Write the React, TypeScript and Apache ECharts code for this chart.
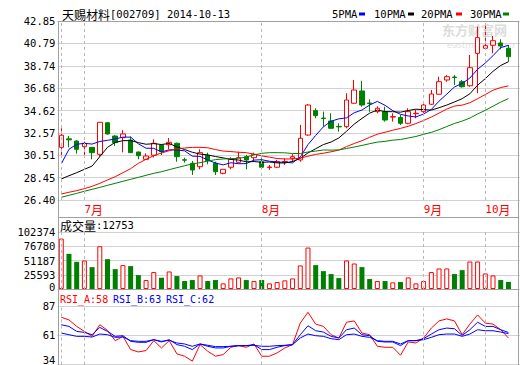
import React, { useEffect, useRef } from "react";
import * as echarts from "echarts";

const stockName = "天赐材料";
const stockCode = "002709";

const dates = [
  "2014-06-26", "2014-06-27", "2014-06-30",
  "2014-07-01", "2014-07-02", "2014-07-03", "2014-07-04", "2014-07-07", "2014-07-08", "2014-07-09", "2014-07-10",
  "2014-07-11", "2014-07-14", "2014-07-15", "2014-07-16", "2014-07-17", "2014-07-18", "2014-07-21", "2014-07-22",
  "2014-07-23", "2014-07-24", "2014-07-25", "2014-07-28", "2014-07-29", "2014-07-30", "2014-07-31",
  "2014-08-01", "2014-08-04", "2014-08-05", "2014-08-06", "2014-08-07", "2014-08-08", "2014-08-11", "2014-08-12",
  "2014-08-13", "2014-08-14", "2014-08-15", "2014-08-18", "2014-08-19", "2014-08-20", "2014-08-21", "2014-08-22",
  "2014-08-25", "2014-08-26", "2014-08-27", "2014-08-28", "2014-08-29",
  "2014-09-19", "2014-09-22", "2014-09-23", "2014-09-24", "2014-09-25", "2014-09-26", "2014-09-29", "2014-09-30",
  "2014-10-08", "2014-10-09", "2014-10-10", "2014-10-13",
];

const opens = [
  31.24, 32.02, 31.82, 31.30, 31.24, 30.60, 33.50, 32.28, 32.13, 31.91,
  30.81, 30.14, 30.51, 31.45, 31.48, 31.61, 30.10, 29.77, 29.46, 30.51,
  29.77, 28.85, 29.41, 29.86, 30.38, 30.29, 29.92, 29.38, 29.41, 29.90,
  30.23, 30.08, 32.37, 34.61, 33.93, 33.66, 33.16, 33.14, 35.29, 36.42,
  35.31, 34.52, 34.52, 34.02, 33.99, 33.45, 34.33, 34.52, 35.20, 36.12,
  37.43, 37.70, 37.27, 36.90, 39.88, 40.34, 40.62, 40.83, 40.34,
];
const closes = [
  32.35, 31.93, 31.06, 31.61, 30.75, 33.54, 32.47, 31.67, 32.47, 30.75,
  30.47, 30.44, 31.61, 30.84, 31.70, 30.38, 30.06, 29.16, 30.75, 30.01,
  29.00, 29.22, 30.14, 30.29, 30.08, 30.60, 29.41, 29.43, 29.92, 29.94,
  30.38, 32.07, 35.13, 34.15, 33.89, 32.99, 33.12, 35.59, 36.51, 35.13,
  35.27, 34.83, 33.75, 34.06, 33.45, 34.52, 34.37, 35.13, 36.14, 37.27,
  37.73, 37.66, 36.81, 38.56, 41.32, 40.58, 41.04, 40.55, 39.57,
];
const lows = [
  30.54, 31.24, 30.66, 30.54, 30.14, 30.38, 32.40, 31.36, 30.78, 30.72,
  30.14, 30.08, 30.32, 30.54, 31.06, 29.92, 29.83, 28.70, 29.22, 29.68,
  28.70, 28.76, 29.22, 29.77, 29.22, 29.92, 29.16, 29.16, 29.35, 29.62,
  29.89, 29.92, 32.30, 33.91, 33.14, 32.93, 32.68, 32.99, 35.26, 34.97,
  34.51, 34.37, 33.60, 33.60, 33.29, 33.36, 33.91, 34.37, 35.13, 36.10,
  37.27, 36.97, 36.72, 36.81, 36.21, 40.30, 39.88, 40.25, 39.11,
];
const highs = [
  32.99, 32.28, 31.87, 31.76, 31.27, 33.58, 33.55, 32.35, 32.83, 32.22,
  30.85, 30.69, 31.98, 31.50, 32.10, 31.67, 30.29, 29.98, 31.06, 30.75,
  29.92, 29.25, 30.32, 30.84, 30.54, 30.75, 30.23, 29.62, 30.08, 30.23,
  30.63, 33.30, 35.22, 34.83, 34.52, 34.37, 33.45, 36.21, 37.43, 37.36,
  35.65, 35.00, 34.97, 34.37, 34.21, 34.83, 34.67, 35.38, 36.51, 37.73,
  37.89, 37.89, 37.43, 39.73, 42.33, 42.39, 41.47, 41.17, 40.64,
];
const volumes = [
  90500, 63100, 48800, 51200, 39300, 76800, 53600, 35700, 42900, 41100,
  25000, 16100, 30400, 20200, 31500, 23200, 14300, 16100, 24400, 14300,
  16100, 10100, 19000, 20800, 16100, 14300, 16100, 10100, 12500, 15500,
  19000, 42300, 74400, 42900, 32100, 26800, 19600, 51200, 45800, 39300,
  17900, 14300, 14300, 11900, 12500, 20800, 10100, 14300, 30400, 36900,
  36900, 26800, 33900, 49400, 49400, 27900, 24400, 16100, 12753,
];

// moving-average values for the first days (history before the window)
const ma5Head = [29.71, 31.06, 31.52, 31.61];
const ma10Head = [28.33, 28.63, 28.91, 29.22, 29.52, 30.38, 31.24, 31.70, 31.85];
const ma20Head = [
  26.95, 27.11, 27.26, 27.44, 27.66, 27.93, 28.24, 28.54, 28.91, 29.28,
  29.77, 30.14, 30.48, 30.72, 30.93, 31.09, 31.18, 31.24, 31.24,
];
const ma30Head = [
  26.65, 26.83, 27.01, 27.20, 27.38, 27.56, 27.75, 27.93, 28.12, 28.30,
  28.48, 28.67, 28.85, 29.00, 29.19, 29.37, 29.55, 29.71, 29.83, 29.98,
  30.11, 30.17, 30.20, 30.23, 30.35, 30.54, 30.69, 30.75, 30.75,
];

const rsiA = [
  76.8, 74.4, 68.5, 64.0, 59.5, 70.0, 64.9, 55.6, 59.5, 47.5,
  45.4, 46.6, 55.6, 49.0, 55.6, 43.6, 41.5, 37.1, 52.0, 46.0,
  41.5, 43.0, 49.6, 51.1, 49.6, 52.6, 41.5, 41.5, 44.5, 49.0,
  52.0, 71.5, 81.3, 70.6, 68.5, 61.0, 58.0, 72.3, 73.5, 62.5,
  61.0, 50.5, 49.6, 49.6, 42.4, 54.4, 53.5, 58.0, 67.0, 73.5,
  75.3, 73.5, 61.0, 70.6, 78.9, 71.5, 70.6, 65.5, 58.0,
];
const rsiB = [
  70.0, 68.5, 64.0, 63.1, 61.0, 67.6, 64.0, 59.5, 60.1, 55.0,
  54.1, 54.1, 56.5, 54.4, 56.5, 52.0, 50.5, 47.5, 52.6, 50.5,
  49.0, 49.0, 50.5, 51.1, 51.1, 52.0, 47.5, 47.5, 49.6, 51.1,
  52.0, 61.0, 69.1, 64.6, 63.4, 59.5, 58.0, 65.5, 67.0, 61.0,
  60.1, 55.0, 54.4, 54.4, 51.1, 55.6, 55.6, 57.4, 61.6, 65.5,
  67.0, 66.4, 60.4, 65.5, 72.3, 68.5, 68.5, 65.5, 63.0,
];
const rsiC = [
  62.5, 61.0, 59.5, 59.5, 58.9, 61.6, 61.0, 58.6, 58.9, 55.6,
  55.0, 55.0, 56.5, 55.0, 55.9, 53.5, 52.6, 50.5, 52.6, 51.4,
  50.2, 50.2, 50.5, 51.1, 51.1, 51.4, 50.5, 50.5, 51.1, 51.4,
  52.0, 58.0, 61.6, 60.1, 59.5, 57.4, 56.5, 61.0, 61.6, 59.5,
  58.6, 55.6, 55.0, 55.0, 52.6, 55.6, 55.6, 56.5, 58.6, 61.0,
  61.6, 61.6, 59.5, 61.6, 65.5, 64.6, 64.6, 63.4, 62.0,
];

const priceTicks = ["26.40", "28.45", "30.51", "32.57", "34.62", "36.68", "38.74", "40.79", "42.85"];
const volTicks = ["0", "25593", "51187", "76780", "102374"];
const rsiTicks = ["34", "61", "87"];
const maNames = ["5PMA", "10PMA", "20PMA", "30PMA"];
const maPeriods = [5, 10, 20, 30];

const RED = "#ff0000";
const GREEN = "#008000";
const BLUE = "#0000ff";
const MA_COLORS = [BLUE, "#000000", RED, GREEN];
const MONO = "'DejaVu Sans Mono', monospace";
const CJK = "'Noto Sans CJK SC'";
const FS = 10.5;
const FRAME = "#a0a0a0";
const GRIDC = "#d2d2d2";

const GL = 57.4;
const GW = 464.4;

function movingAvg(n: number, head: number[]): number[] {
  return closes.map((_, i) => {
    if (i < n - 1) return head[i];
    let s = 0;
    for (let k = i - n + 1; k <= i; k++) s += closes[k];
    return +(s / n).toFixed(3);
  });
}

function buildOption() {
  const N = dates.length;
  const cats = [...dates, ""];
  const monthStarts = dates
    .map((d, i) => (i > 0 && d.slice(5, 7) !== dates[i - 1].slice(5, 7) ? i : -1))
    .filter((i) => i >= 0);
  const markIdx = [0, ...monthStarts];
  const heads = [ma5Head, ma10Head, ma20Head, ma30Head];

  const PMIN = 26.4, PMAX = 42.85, PINT = (PMAX - PMIN) / 8;
  const VMAX = 102374, VINT = VMAX / 4;
  const RMIN = 34, RMAX = 87, RINT = (RMAX - RMIN) / 2;

  const mkX = (gridIndex: number, showLabel: boolean) => ({
    type: "category",
    gridIndex,
    data: cats,
    boundaryGap: true,
    axisLine: { show: false },
    axisTick: { show: false },
    splitLine: { show: false },
    axisLabel: showLabel
      ? {
          show: true,
          interval: (index: number) => monthStarts.includes(index),
          formatter: (v: string) => (v ? `{n|${parseInt(v.slice(5, 7), 10)}}{c|月}` : ""),
          rich: {
            n: { color: RED, fontSize: 11, fontFamily: MONO },
            c: { color: RED, fontSize: 12, fontFamily: CJK },
          },
          color: RED,
          align: "left",
          margin: 3,
        }
      : { show: false },
  });

  const mkY = (gridIndex: number, min: number, max: number, interval: number, labels: string[], shiftPad: number) => ({
    type: "value",
    gridIndex,
    min,
    max,
    interval,
    axisLine: { show: false },
    axisTick: { show: false },
    splitLine: { show: true, lineStyle: { color: GRIDC, width: 1 } },
    axisLabel: {
      show: true,
      margin: 2,
      color: "#000",
      fontSize: FS,
      fontFamily: MONO,
      formatter: (v: number) => {
        const idx = Math.round((v - min) / interval);
        const t = labels[idx] ?? "";
        if (idx === 0 && shiftPad > 0) return `{lo|${t}}`;
        return t;
      },
      rich: {
        lo: { padding: [0, 0, shiftPad, 0], fontSize: FS, fontFamily: MONO, color: "#000" },
      },
    },
  });

  const markLine = () => ({
    symbol: "none",
    silent: true,
    label: { show: false },
    lineStyle: { color: "#b8b8b8", type: [3, 3], width: 1 },
    data: markIdx.map((i) => ({ xAxis: dates[i] })),
  });

  const series: any[] = [];
  series.push({
    name: "K",
    type: "candlestick",
    xAxisIndex: 0,
    yAxisIndex: 0,
    barWidth: 5,
    data: dates.map((_, i) => [opens[i], closes[i], lows[i], highs[i]]),
    itemStyle: { color: "#ffffff", color0: GREEN, borderColor: RED, borderColor0: GREEN, borderWidth: 1 },
    markLine: markLine(),
  });
  maPeriods.forEach((p, k) => {
    series.push({
      name: maNames[k],
      type: "line",
      xAxisIndex: 0,
      yAxisIndex: 0,
      data: movingAvg(p, heads[k]),
      symbol: "none",
      lineStyle: { color: MA_COLORS[k], width: 1 },
      itemStyle: { color: MA_COLORS[k] },
      z: 3,
    });
  });
  series.push({
    name: "VOL",
    type: "bar",
    xAxisIndex: 1,
    yAxisIndex: 1,
    barWidth: 5,
    data: volumes.map((v, i) => ({
      value: v,
      itemStyle:
        closes[i] >= opens[i]
          ? { color: "#ffffff", borderColor: RED, borderWidth: 1 }
          : { color: GREEN, borderColor: GREEN, borderWidth: 0 },
    })),
    markLine: markLine(),
  });
  const rsiSets = [
    { name: "RSI_A", data: rsiA, color: RED },
    { name: "RSI_B", data: rsiB, color: BLUE },
    { name: "RSI_C", data: rsiC, color: BLUE },
  ];
  rsiSets.forEach((r, k) => {
    series.push({
      name: r.name,
      type: "line",
      xAxisIndex: 2,
      yAxisIndex: 2,
      data: r.data,
      symbol: "none",
      lineStyle: { color: r.color, width: 1 },
      itemStyle: { color: r.color },
      markLine: k === 0 ? markLine() : undefined,
    });
  });

  const txt = (text: string, x: number, y: number, fill: string, extra: any = {}) => ({
    type: "text",
    x,
    y,
    silent: true,
    style: { text, fill, fontSize: FS, fontFamily: MONO, verticalAlign: "middle", align: "left", ...extra },
  });
  const hline = (x1: number, x2: number, y: number) => ({
    type: "line",
    silent: true,
    shape: { x1, y1: y, x2, y2: y },
    style: { stroke: FRAME, lineWidth: 1 },
    z: 10,
  });
  const vline = (x: number, y1: number, y2: number) => ({
    type: "line",
    silent: true,
    shape: { x1: x, y1, x2: x, y2 },
    style: { stroke: FRAME, lineWidth: 1 },
    z: 10,
  });
  const mixed = (cjk: string, rest: string, x: number, y: number) => ({
    type: "text",
    x,
    y,
    silent: true,
    style: {
      text: `{c|${cjk}}{a|${rest}}`,
      verticalAlign: "middle",
      align: "left",
      rich: {
        c: { fontSize: 12, fontFamily: CJK, fill: "#000", color: "#000" },
        a: { fontSize: FS, fontFamily: MONO, fill: "#000", color: "#000" },
      },
    },
  });

  const legendX = [332, 374, 421, 470];
  const legendIconX = [359, 408, 456, 503];
  const graphic: any[] = [
    // watermark
    txt("东方财富网", 442, 29.5, "#dcdcdc", { fontSize: 13, fontWeight: "bold", fontFamily: CJK }),
    txt("eastmoney.com", 447, 44.5, "#e0e0e0", { fontSize: 8.5, fontStyle: "italic", fontFamily: "'DejaVu Sans'" }),
    // title
    mixed(stockName, `[${stockCode}] ${dates[N - 1]}`, 62, 14),
    // legend
    ...maNames.map((n, k) => txt(n, legendX[k], 14, "#000")),
    ...maNames.map((_, k) => ({
      type: "rect",
      silent: true,
      shape: { x: legendIconX[k], y: 12.5, width: 6, height: 3 },
      style: { fill: MA_COLORS[k] },
    })),
    // volume label
    mixed("成交量", `:${volumes[N - 1]}`, 60, 225),
    // RSI labels
    txt(`RSI_A:${Math.round(rsiA[N - 1])}`, 60, 299, RED, { fontSize: 10 }),
    txt(`RSI_B:${Math.round(rsiB[N - 1])}`, 113, 299, BLUE, { fontSize: 10 }),
    txt(`RSI_C:${Math.round(rsiC[N - 1])}`, 166, 299, BLUE, { fontSize: 10 }),
    // frame
    hline(58.5, 519, 21.5),
    hline(58.5, 519, 217.5),
    hline(58.5, 519, 289.5),
    vline(58.5, 21, 365),
    vline(518.5, 21, 365),
  ];

  return {
    animation: false,
    backgroundColor: "#ffffff",
    grid: [
      { left: GL, top: 21, width: GW, height: 179 },
      { left: GL, top: 232, width: GW, height: 57 },
      { left: GL, top: 306, width: GW, height: 59 },
    ],
    xAxis: [mkX(0, true), mkX(1, false), mkX(2, false)],
    yAxis: [
      mkY(0, PMIN, PMAX, PINT, priceTicks, 0),
      mkY(1, 0, VMAX, VINT, volTicks, 4),
      mkY(2, RMIN, RMAX, RINT, rsiTicks, 10),
    ],
    series,
    graphic,
  };
}

export default function App() {
  const ref = useRef<HTMLDivElement>(null);
  useEffect(() => {
    if (!ref.current) return;
    const chart = echarts.init(ref.current, undefined, { renderer: "svg" });
    chart.setOption(buildOption() as any);
    return () => chart.dispose();
  }, []);
  return (
    <div
      ref={ref}
      style={{ position: "absolute", left: 0, top: 0, width: 520, height: 365, background: "#fff" }}
    />
  );
}
